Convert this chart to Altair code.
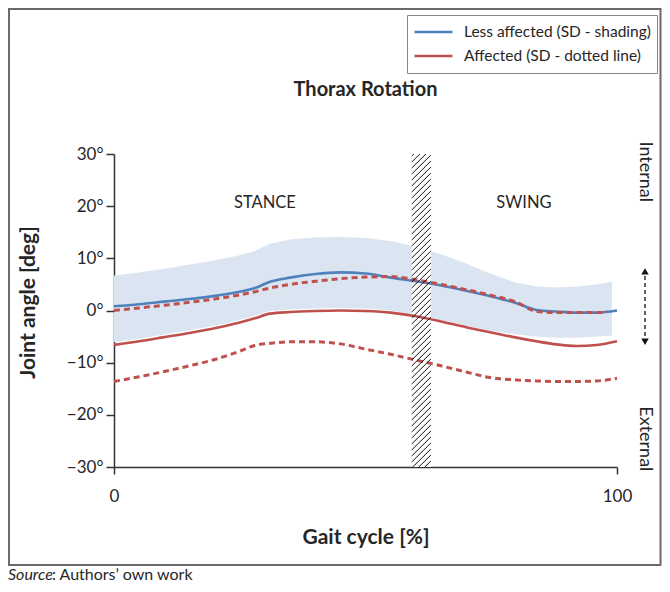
import altair as alt
import pandas as pd
import numpy as np

# ---------------- data ----------------
x_common = [0, 5, 10, 15, 20, 25, 28, 31, 35, 40, 45, 50, 55, 60, 65, 70, 75, 80, 84, 88, 92, 96, 100]
less_mean = [0.8, 1.2, 1.7, 2.2, 2.8, 3.6, 4.3, 5.5, 6.3, 7.0, 7.3, 7.1, 6.3, 5.6, 4.8, 3.8, 2.7, 1.4, 0.1, -0.2, -0.4, -0.4, 0.0]
aff_mean = [-6.6, -5.9, -5.1, -4.3, -3.4, -2.3, -1.5, -0.6, -0.3, -0.1, 0.0, -0.1, -0.4, -1.1, -2.1, -3.2, -4.2, -5.2, -5.9, -6.5, -6.8, -6.6, -5.9]
aff_sd_low = [-13.6, -12.7, -11.7, -10.6, -9.4, -7.8, -6.7, -6.3, -6.0, -6.0, -6.4, -7.4, -8.4, -9.5, -10.6, -11.8, -12.9, -13.3, -13.5, -13.6, -13.6, -13.5, -13.0]

x_aff_up = [0, 5, 10, 15, 20, 25, 28, 31, 35, 40, 45, 50, 55, 60, 65, 70, 75, 80, 84, 88, 92, 96, 98]
aff_sd_up = [0.0, 0.5, 1.0, 1.6, 2.2, 3.0, 3.6, 4.3, 5.0, 5.6, 6.1, 6.4, 6.5, 5.9, 5.0, 4.0, 2.9, 1.6, -0.2, -0.4, -0.4, -0.4, -0.3]

x_shade = [0, 5, 10, 15, 20, 25, 28, 31, 35, 40, 45, 50, 55, 60, 65, 70, 75, 80, 84, 88, 92, 96, 99]
shade_up = [6.7, 7.3, 8.0, 8.8, 9.6, 10.6, 11.4, 12.8, 13.6, 14.0, 14.1, 13.9, 13.3, 12.2, 10.8, 9.0, 7.0, 5.3, 4.6, 4.4, 4.6, 5.0, 5.5]
shade_low = [-6.1, -5.4, -4.6, -3.8, -2.9, -1.8, -1.0, -0.1, 0.2, 0.4, 0.5, 0.4, 0.0, -0.8, -1.8, -2.9, -3.9, -4.6, -5.0, -5.2, -5.2, -5.0, -4.8]

hatch_band = [59.2, 63.0]          # toe-off band, % gait cycle
y_ticks = [-30, -20, -10, 0, 10, 20, 30]
x_ticks = [0, 100]

LEG_LESS = "Less affected (SD - shading)"
LEG_AFF = "Affected (SD - dotted line)"

BLUE = "#4f81bd"
RED = "#c0504d"
SHADE = "#dbe5f1"
FONT = "Lato"
INK = "#262626"

xs = alt.Scale(domain=[0, 100], nice=False, zero=False)
ys = alt.Scale(domain=[-30, 30], nice=False, zero=False)

# ---------------- tables ----------------
shade_df = pd.DataFrame({"x": x_shade, "lo": shade_low, "hi": shade_up})
mean_df = pd.concat([
    pd.DataFrame({"x": x_common, "y": less_mean, "s": LEG_LESS}),
    pd.DataFrame({"x": x_common, "y": aff_mean, "s": LEG_AFF}),
])
sd_df = pd.concat([
    pd.DataFrame({"x": x_aff_up, "y": aff_sd_up, "k": "up"}),
    pd.DataFrame({"x": x_common, "y": aff_sd_low, "k": "low"}),
])
band_df = pd.DataFrame({"x1": [hatch_band[0]], "x2": [hatch_band[1]], "y1": [-30], "y2": [30]})

# hatch lines (decoration) inside the band
dy = 3.63
starts = np.arange(-30 - dy, 30 + 0.01, 1.15)
hatch_df = pd.DataFrame({"x1": hatch_band[0], "x2": hatch_band[1], "y1": starts, "y2": starts + dy})

W, H = 503, 313

border = alt.Chart(alt.Data(values=[{}])).mark_rect(
    fill="transparent", stroke="#6b6b6b", strokeWidth=2
).encode(x=alt.value(-105), x2=alt.value(546.5), y=alt.value(-145), y2=alt.value(411))

area = alt.Chart(shade_df).mark_area(color=SHADE, opacity=1).encode(
    x=alt.X("x:Q", scale=xs), y=alt.Y("lo:Q", scale=ys), y2="hi:Q"
)

band = alt.Chart(band_df).mark_rect(color="white").encode(
    x=alt.X("x1:Q", scale=xs), x2="x2:Q", y=alt.Y("y1:Q", scale=ys), y2="y2:Q"
)

means = alt.Chart(mean_df).mark_line(strokeWidth=2.6, interpolate="monotone").encode(
    x=alt.X("x:Q", scale=xs, title="Gait cycle [%]",
            axis=alt.Axis(values=x_ticks, labelFontSize=17, tickSize=7, labelPadding=14,
                          labelFlush=False,
                          titleY=70, titleBaseline="middle", grid=False)),
    y=alt.Y("y:Q", scale=ys, title="Joint angle [deg]",
            axis=alt.Axis(values=y_ticks, labelExpr="datum.label + '°'", labelFontSize=17,
                          tickSize=8, labelPadding=3, titleX=-86, titleY=148, titleAngle=270,
                          titleAlign="center", titleBaseline="middle", grid=False)),
    color=alt.Color("s:N", scale=alt.Scale(domain=[LEG_LESS, LEG_AFF], range=[BLUE, RED]),
                    legend=alt.Legend(title=None, orient="none", legendX=293, legendY=-139,
                                      symbolType="stroke", symbolSize=1444, symbolStrokeWidth=2.6,
                                      clipHeight=22, rowPadding=2, padding=6, labelOffset=10,
                                      labelFontSize=15.5, labelFont=FONT, labelColor=INK,
                                      labelLimit=400,
                                      strokeColor="#888888", fillColor="white")),
    detail="s:N",
)

sds = alt.Chart(sd_df).mark_line(color=RED, strokeWidth=3, strokeDash=[6, 4], interpolate="monotone").encode(
    x=alt.X("x:Q", scale=xs), y=alt.Y("y:Q", scale=ys), detail="k:N"
)

hatch = alt.Chart(hatch_df).mark_rule(color="#111111", strokeWidth=1, clip=True).encode(
    x=alt.X("x1:Q", scale=xs), x2="x2:Q", y=alt.Y("y1:Q", scale=ys), y2="y2:Q"
)

phase_df = pd.DataFrame({"x": [30, 81.5], "y": [20.6, 20.6], "t": ["STANCE", "SWING"]})
phases = alt.Chart(phase_df).mark_text(font=FONT, fontSize=16.5, color=INK).encode(
    x=alt.X("x:Q", scale=xs), y=alt.Y("y:Q", scale=ys), text="t:N"
)

side_df = pd.DataFrame({"y": [26.6, -24.6], "t": ["Internal", "External"]})
sides = alt.Chart(side_df).mark_text(font=FONT, fontSize=18, color=INK, angle=90).encode(
    x=alt.value(531), y=alt.Y("y:Q", scale=ys), text="t:N"
)

arrow_df = pd.DataFrame({"y1": [6.6], "y2": [-5.0]})
arrow_line = alt.Chart(arrow_df).mark_rule(color="#111111", strokeWidth=1.3, strokeDash=[4, 3]).encode(
    x=alt.value(531), y=alt.Y("y1:Q", scale=ys), y2="y2:Q"
)
head_df = pd.DataFrame({"y": [7.5, -6.0], "shape": ["triangle-up", "triangle-down"]})
heads = alt.Chart(head_df).mark_point(filled=True, color="#111111", size=55, opacity=1).encode(
    x=alt.value(531), y=alt.Y("y:Q", scale=ys),
    shape=alt.Shape("shape:N", scale=None, legend=None)
)

title = alt.Chart(alt.Data(values=[{"t": "Thorax Rotation"}])).mark_text(
    font=FONT, fontSize=20, fontWeight="bold", color=INK
).encode(x=alt.value(251.5), y=alt.value(-64), text="t:N")

src1 = alt.Chart(alt.Data(values=[{"t": "Source"}])).mark_text(
    font=FONT, fontSize=16, fontStyle="italic", color=INK, align="left"
).encode(x=alt.value(-106), y=alt.value(421), text="t:N")
src2 = alt.Chart(alt.Data(values=[{"t": ": Authors\u2019 own work"}])).mark_text(
    font=FONT, fontSize=16, color=INK, align="left"
).encode(x=alt.value(-62), y=alt.value(421), text="t:N")

chart = alt.layer(
    border, area, band, means, sds, hatch, phases, sides, arrow_line, heads, title, src1, src2
).properties(
    width=W, height=H,
    autosize=alt.AutoSizeParams(type="none"),
    padding={"left": 106, "top": 146, "right": 45, "bottom": 115},
).configure_view(stroke=None).configure_axis(
    domainColor="#333333", domainWidth=1.5, tickColor="#333333", tickWidth=1.5,
    labelFont=FONT, labelColor=INK, titleFont=FONT, titleFontSize=21,
    titleFontWeight="bold", titleColor=INK,
)

chart.save("out.html", embed_options={"renderer": "svg", "actions": False})
